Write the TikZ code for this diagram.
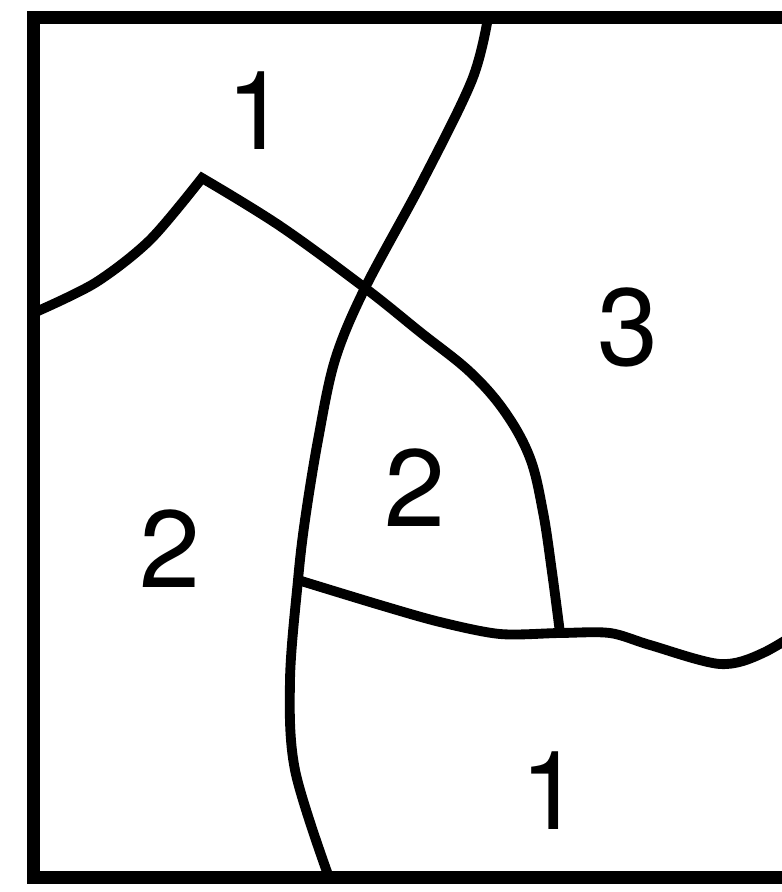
\documentclass[tikz,border=0pt]{standalone}
\usepackage{fontspec}
\setmainfont{TeX Gyre Heros}

\begin{document}
\begin{tikzpicture}[
  x=0.025cm, y=-0.025cm,
  frame/.style={line width=9.2pt, line join=miter},
  boundary/.style={line width=7pt, line join=miter, line cap=butt},
  region/.style={inner sep=0pt, font=\fontsize{78}{78}\selectfont}
]
\useasboundingbox (0,0) rectangle (781,892);

% map frame, the right side runs off the page
\draw[frame] (840,17.5) -- (33.5,17.5) -- (33.5,877.5) -- (840,877.5);

\coordinate (top) at (488,17.5);
\coordinate (bot) at (329,877.5);
\coordinate (west) at (33.5,313);
\coordinate (peak) at (202,178);
\coordinate (jl) at (298,580);
\coordinate (jr) at (560,633);
\coordinate (east) at (830,612);

% boundaries
\draw[boundary] plot[smooth, tension=0.55] coordinates {(top) (472,80) (422,182) (365,288) (335,360) (318,440) (305,520) (jl) (290,680) (295,770) (bot)};
\draw[boundary] plot[smooth, tension=0.5] coordinates {(west) (95,283) (150,240) (peak)}
  -- plot[smooth, tension=0.6] coordinates {(peak) (280,226) (365,288) (420,332) (470,372) (505,412) (530,458) (543,512) (552,572) (jr)};
\draw[boundary] plot[smooth, tension=0.5] coordinates {(jl) (380,605) (440,622) (500,634) (jr) (610,633) (650,645) (720,664) (765,652) (east)};

% region labels
\node[region] (r1a) at (257,111) {1};
\node[region] (r3) at (628,327) {3};
\node[region] (r2a) at (170,549) {2};
\node[region] (r2b) at (415,488) {2};
\node[region] (r1b) at (551,791) {1};

\end{tikzpicture}
\end{document}
